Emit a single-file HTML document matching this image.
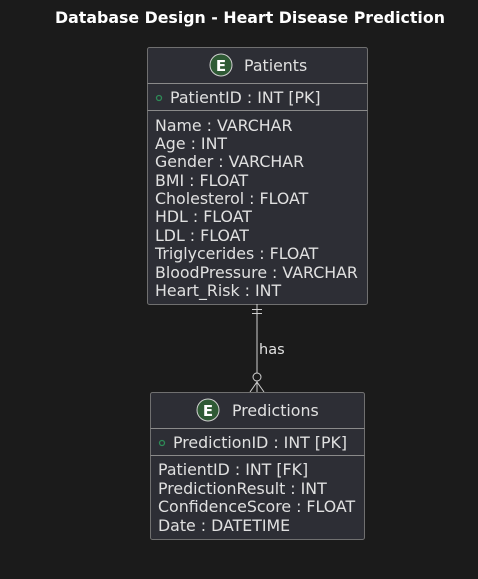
<!DOCTYPE html>
<html><head><meta charset="utf-8"><style>
html,body{margin:0;padding:0;background:#1b1b1b;}
svg{display:block;font-family:"DejaVu Sans","Liberation Sans",sans-serif;}
</style></head><body>
<svg width="478" height="579" viewBox="0 0 478 579">
<rect width="478" height="579" fill="#1b1b1b"/>
<text x="250" y="23" text-anchor="middle" font-size="15.8" font-weight="bold" fill="#ffffff">Database Design - Heart Disease Prediction</text>

<g>
<rect x="147.5" y="47.5" width="220" height="257" rx="2" fill="#2d2e35" stroke="#707070"/>
<circle cx="221" cy="65" r="11" fill="#2f5a35" stroke="#cfcfcf" stroke-width="1"/>
<text x="221" y="71" text-anchor="middle" font-size="15" font-weight="bold" fill="#ffffff">E</text>
<text x="244" y="71" font-size="15.8" fill="#e0e0e0">Patients</text>
<line x1="147.5" y1="83.5" x2="367.5" y2="83.5" stroke="#8a8a8a"/>
<circle cx="159" cy="98" r="2.5" fill="none" stroke="#2e8b57" stroke-width="1.3"/>
<text x="170" y="103" font-size="15.8" fill="#e0e0e0">PatientID : INT [PK]</text>
<line x1="147.5" y1="110.5" x2="367.5" y2="110.5" stroke="#8a8a8a"/>
<g font-size="15.8" fill="#e0e0e0">
<text x="155" y="131">Name : VARCHAR</text>
<text x="155" y="149">Age : INT</text>
<text x="155" y="167">Gender : VARCHAR</text>
<text x="155" y="186">BMI : FLOAT</text>
<text x="155" y="204">Cholesterol : FLOAT</text>
<text x="155" y="222">HDL : FLOAT</text>
<text x="155" y="241">LDL : FLOAT</text>
<text x="155" y="259">Triglycerides : FLOAT</text>
<text x="155" y="278">BloodPressure : VARCHAR</text>
<text x="155" y="296">Heart_Risk : INT</text>
</g>
</g>

<g stroke="#cfcfcf" fill="none" stroke-width="1">
<line x1="257" y1="304" x2="257" y2="392"/>
<line x1="252" y1="309.5" x2="262" y2="309.5"/>
<line x1="252" y1="313.5" x2="262" y2="313.5"/>
<circle cx="257" cy="377" r="4" fill="#1b1b1b"/>
<line x1="257" y1="382" x2="250" y2="392"/>
<line x1="257" y1="382" x2="264" y2="392"/>
</g>
<text x="259" y="354" font-size="14.5" fill="#e0e0e0">has</text>

<g>
<rect x="150.5" y="392.5" width="214" height="147" rx="2" fill="#2d2e35" stroke="#707070"/>
<circle cx="208" cy="410" r="11" fill="#2f5a35" stroke="#cfcfcf" stroke-width="1"/>
<text x="208" y="416" text-anchor="middle" font-size="15" font-weight="bold" fill="#ffffff">E</text>
<text x="232" y="416" font-size="15.8" fill="#e0e0e0">Predictions</text>
<line x1="150.5" y1="428.5" x2="364.5" y2="428.5" stroke="#8a8a8a"/>
<circle cx="162" cy="443" r="2.5" fill="none" stroke="#2e8b57" stroke-width="1.3"/>
<text x="173" y="448" font-size="15.8" fill="#e0e0e0">PredictionID : INT [PK]</text>
<line x1="150.5" y1="455.5" x2="364.5" y2="455.5" stroke="#8a8a8a"/>
<g font-size="15.8" fill="#e0e0e0">
<text x="158" y="475">PatientID : INT [FK]</text>
<text x="158" y="494">PredictionResult : INT</text>
<text x="158" y="512">ConfidenceScore : FLOAT</text>
<text x="158" y="531">Date : DATETIME</text>
</g>
</g>
</svg>
</body></html>
